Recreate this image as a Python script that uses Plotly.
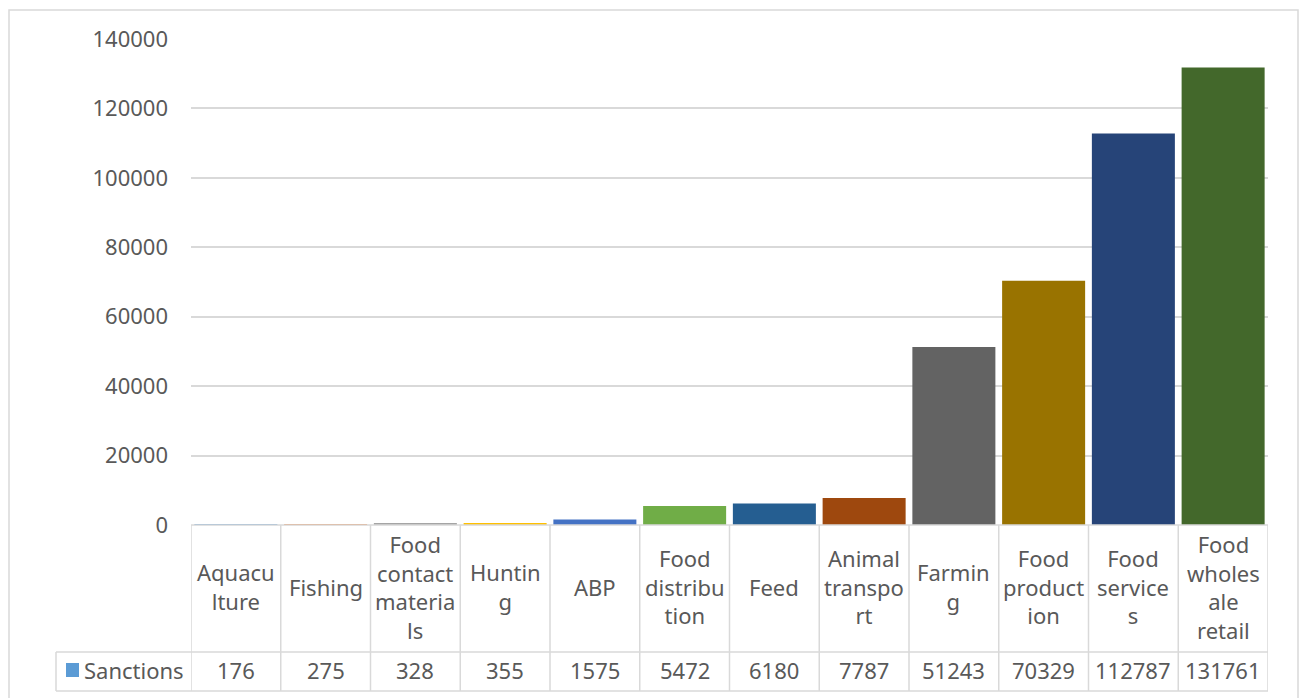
import plotly.graph_objects as go

# ---------------- data ----------------
series_name = "Sanctions"
categories = ["Aquaculture", "Fishing", "Food contact materials", "Hunting", "ABP",
              "Food distribution", "Feed", "Animal transport", "Farming",
              "Food production", "Food services", "Food wholesale retail"]
header_labels = ["Aquacu<br>lture", "Fishing", "Food<br>contact<br>materia<br>ls", "Huntin<br>g", "ABP",
                 "Food<br>distribu<br>tion", "Feed", "Animal<br>transpo<br>rt", "Farmin<br>g",
                 "Food<br>product<br>ion", "Food<br>service<br>s", "Food<br>wholes<br>ale<br>retail"]
values = [176, 275, 328, 355, 1575, 5472, 6180, 7787, 51243, 70329, 112787, 131761]
bar_colors = ["#5B9BD5", "#ED7D31", "#A5A5A5", "#FFC000", "#4472C4", "#70AD47",
              "#255E91", "#9E480E", "#636363", "#997300", "#264478", "#43682B"]
y_ticks = [0, 20000, 40000, 60000, 80000, 100000, 120000, 140000]

# ---------------- layout constants ----------------
W, H = 1304, 698
L, R, T, B = 191, 36, 39, 173
PW, PH = W - L - R, H - T - B
FONT = "Noto Sans"
TXT = "#595959"
LINE = "#D9D9D9"


def px_x(px):
    return (px - L) / PW


def px_y(py):
    return (H - B - py) / PH


fig = go.Figure()
fig.add_trace(go.Bar(x=categories, y=values, marker=dict(color=bar_colors, line=dict(width=0)),
                     name=series_name, showlegend=False))

shapes = []
# outer chart border
shapes.append(dict(type="rect", xref="paper", yref="paper", x0=px_x(9), x1=px_x(1298),
                   y0=px_y(710), y1=px_y(10), line=dict(color=LINE, width=1.5), layer="below"))
# table horizontal lines
table_top, row_split, table_bottom = 525, 652, 691
shapes.append(dict(type="line", xref="paper", yref="paper", x0=0, x1=1,
                   y0=px_y(table_top), y1=px_y(table_top), line=dict(color=LINE, width=1.5)))
for yy in (row_split, table_bottom):
    shapes.append(dict(type="line", xref="paper", yref="paper", x0=px_x(56), x1=1,
                       y0=px_y(yy), y1=px_y(yy), line=dict(color=LINE, width=1.5)))
# vertical lines at category boundaries
for i in range(len(categories) + 1):
    shapes.append(dict(type="line", xref="x", yref="paper", x0=i - 0.5, x1=i - 0.5,
                       y0=px_y(table_top), y1=px_y(table_bottom), line=dict(color=LINE, width=1.5)))
# legend cell left edge
shapes.append(dict(type="line", xref="paper", yref="paper", x0=px_x(56), x1=px_x(56),
                   y0=px_y(row_split), y1=px_y(table_bottom), line=dict(color=LINE, width=1.5)))
# legend key
shapes.append(dict(type="rect", xref="paper", yref="paper", x0=px_x(66), x1=px_x(79),
                   y0=px_y(677), y1=px_y(663), line=dict(width=0), fillcolor=bar_colors[0]))

annotations = []
head_mid = (table_top + row_split) / 2 - 2
val_mid = (row_split + table_bottom) / 2 - 2
for i, (lab, v) in enumerate(zip(header_labels, values)):
    annotations.append(dict(x=i, xref="x", y=px_y(head_mid), yref="paper", text=lab,
                            showarrow=False, xanchor="center", yanchor="middle",
                            font=dict(family=FONT, size=22, color=TXT)))
    annotations.append(dict(x=i, xref="x", y=px_y(val_mid), yref="paper", text=str(v),
                            showarrow=False, xanchor="center", yanchor="middle",
                            font=dict(family=FONT, size=22, color=TXT)))
annotations.append(dict(x=px_x(82), xref="paper", y=px_y(val_mid), yref="paper", text=series_name,
                        showarrow=False, xanchor="left", yanchor="middle",
                        font=dict(family=FONT, size=22, color=TXT)))

fig.update_layout(
    width=W, height=H,
    margin=dict(l=L, r=R, t=T, b=B, pad=0),
    paper_bgcolor="white", plot_bgcolor="white",
    bargap=0.075,
    showlegend=False,
    shapes=shapes,
    annotations=annotations,
    xaxis=dict(type="category", range=[-0.5, len(categories) - 0.5], showticklabels=False,
               showgrid=False, zeroline=False, showline=False, ticks=""),
    yaxis=dict(range=[0, 140000], tickvals=y_ticks, ticktext=[str(t) for t in y_ticks],
               showgrid=True, gridcolor=LINE, gridwidth=1.5, zeroline=False, showline=False,
               ticks="", ticklabelstandoff=22,
               tickfont=dict(family=FONT, size=22, color=TXT)),
)

fig.write_html("out.html")
